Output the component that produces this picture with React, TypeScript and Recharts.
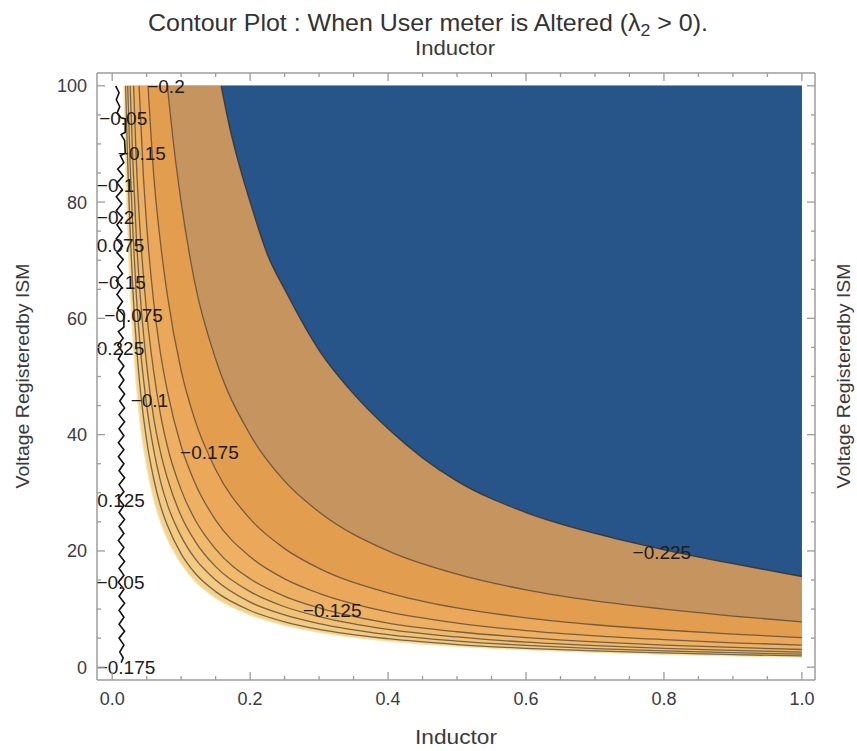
import React from 'react';
import { ComposedChart, Area, Line, XAxis, YAxis, Scatter } from 'recharts';

// ---------- axis setup ----------
const X_DOMAIN: [number, number] = [-0.022, 1.019];
const Y_DOMAIN: [number, number] = [-2.2, 102.2];
const xTicks = [0, 0.05, 0.1, 0.15, 0.2, 0.25, 0.3, 0.35, 0.4, 0.45, 0.5, 0.55, 0.6, 0.65, 0.7, 0.75, 0.8, 0.85, 0.9, 0.95, 1.0];
const xMajor = [0, 0.2, 0.4, 0.6, 0.8, 1.0];
const yTicks = [0, 5, 10, 15, 20, 25, 30, 35, 40, 45, 50, 55, 60, 65, 70, 75, 80, 85, 90, 95, 100];
const yMajor = [0, 20, 40, 60, 80, 100];

// ---------- contour curves (Inductor, Voltage) ----------
const edgeCurve = [[0.017, 100], [0.02, 85], [0.025, 68], [0.03, 56.7], [0.035, 48.6], [0.04, 42.5], [0.05, 34.5], [0.06, 29], [0.07, 25], [0.08, 22], [0.1, 17.8], [0.12, 14.8], [0.15, 11.9], [0.2, 9.0], [0.25, 7.2], [0.3, 6.0], [0.4, 4.5], [0.5, 3.6], [0.6, 3.0], [0.7, 2.55], [0.8, 2.2], [0.9, 1.95], [1.0, 1.75]];
const level050 = [[0.0195, 100], [0.022, 88.6], [0.026, 75], [0.03, 65], [0.035, 55.7], [0.04, 48.7], [0.05, 39], [0.06, 32.5], [0.07, 27.8], [0.08, 24.4], [0.1, 19.5], [0.12, 16.2], [0.15, 13], [0.2, 9.75], [0.25, 7.8], [0.3, 6.5], [0.4, 4.9], [0.5, 3.9], [0.6, 3.25], [0.7, 2.8], [0.8, 2.45], [0.9, 2.15], [1.0, 1.95]];
const level075 = [[0.0225, 100], [0.026, 86.5], [0.03, 75], [0.035, 64], [0.04, 56], [0.05, 45], [0.06, 37.5], [0.07, 32], [0.08, 28], [0.1, 22.5], [0.12, 18.7], [0.15, 15], [0.2, 11.2], [0.25, 9], [0.3, 7.5], [0.4, 5.6], [0.5, 4.5], [0.6, 3.75], [0.7, 3.2], [0.8, 2.8], [0.9, 2.5], [1.0, 2.25]];
const level100 = [[0.026, 100], [0.03, 87], [0.035, 74], [0.04, 65], [0.05, 52], [0.06, 43], [0.07, 37], [0.08, 32.5], [0.1, 26], [0.12, 21.7], [0.15, 17.3], [0.2, 13], [0.25, 10.4], [0.3, 8.7], [0.4, 6.5], [0.5, 5.2], [0.6, 4.3], [0.7, 3.7], [0.8, 3.25], [0.9, 2.9], [1.0, 2.6]];
const level125 = [[0.031, 100], [0.035, 87], [0.04, 76], [0.05, 61], [0.06, 51], [0.07, 43.5], [0.08, 38], [0.1, 30.5], [0.12, 25.4], [0.15, 20.3], [0.2, 15.2], [0.25, 12.2], [0.3, 10.2], [0.4, 7.6], [0.5, 6.1], [0.6, 5.1], [0.7, 4.35], [0.8, 3.8], [0.9, 3.4], [1.0, 3.05]];
const level150 = [[0.039, 100], [0.045, 85], [0.05, 76], [0.06, 63], [0.07, 54], [0.08, 47.5], [0.1, 38], [0.12, 31.7], [0.15, 25.3], [0.2, 19], [0.25, 15.2], [0.3, 12.7], [0.4, 9.5], [0.5, 7.6], [0.6, 6.3], [0.7, 5.4], [0.8, 4.75], [0.9, 4.2], [1.0, 3.8]];
const level175 = [[0.052, 100], [0.06, 85], [0.07, 73], [0.08, 64], [0.1, 51], [0.12, 42.5], [0.15, 34], [0.2, 25.5], [0.25, 20.4], [0.3, 17], [0.4, 12.8], [0.5, 10.2], [0.6, 8.5], [0.7, 7.3], [0.8, 6.4], [0.9, 5.7], [1.0, 5.1]];
const level200 = [[0.08, 100], [0.09, 89], [0.1, 80], [0.12, 66], [0.15, 53], [0.2, 40], [0.25, 32], [0.3, 26.7], [0.4, 20], [0.5, 16], [0.6, 13.3], [0.7, 11.4], [0.8, 10], [0.9, 8.8], [1.0, 7.8]];
const level225 = [[0.158, 100], [0.17, 93], [0.185, 86], [0.2, 80], [0.225, 71], [0.25, 65], [0.3, 54.5], [0.35, 47], [0.4, 41], [0.45, 36], [0.5, 32], [0.6, 26.6], [0.7, 23], [0.8, 20.2], [0.9, 17.8], [1.0, 15.6]];

// noisy contour along the left edge
const wiggle = [[0.005, 100], [0.010, 98.8], [0.006, 97.6], [0.011, 96.4], [0.007, 95.3], [0.013, 94.5], [0.019, 94.3], [0.019, 92.0], [0.013, 91.6], [0.018, 90.6], [0.019, 88.4], [0.012, 88.0], [0.017, 86.8], [0.008, 85.7], [0.016, 84.5], [0.007, 83.3], [0.015, 82.1], [0.006, 80.9], [0.014, 79.7], [0.006, 78.5], [0.015, 77.3], [0.007, 76.1], [0.014, 74.9], [0.006, 73.7], [0.015, 72.5], [0.007, 71.3], [0.016, 70.1], [0.008, 68.9], [0.015, 67.7], [0.006, 66.5], [0.014, 65.3], [0.007, 64.1], [0.015, 62.9], [0.008, 61.7], [0.017, 60.5], [0.017, 58.5], [0.009, 57.7], [0.016, 56.6], [0.008, 55.4], [0.015, 54.2], [0.009, 53.0], [0.017, 51.8], [0.010, 50.6], [0.017, 49.4], [0.010, 48.2], [0.018, 47.0], [0.011, 45.8], [0.018, 44.6], [0.010, 43.4], [0.018, 42.2], [0.010, 41.0], [0.017, 39.8], [0.009, 38.6], [0.017, 37.4], [0.009, 36.2], [0.017, 35.0], [0.010, 33.8], [0.018, 32.6], [0.010, 31.4], [0.017, 30.2], [0.009, 29.0], [0.017, 27.8], [0.010, 26.6], [0.018, 25.4], [0.010, 24.2], [0.017, 23.0], [0.009, 21.8], [0.017, 20.6], [0.010, 19.4], [0.018, 18.2], [0.010, 17.0], [0.017, 15.8], [0.009, 14.6], [0.017, 13.4], [0.010, 12.2], [0.018, 11.0], [0.010, 9.8], [0.017, 8.6], [0.010, 7.4], [0.018, 6.2], [0.010, 5.0], [0.017, 3.8], [0.011, 2.6], [0.016, 1.6], [0.013, 0.8]];

// contour labels: [text, inductor, voltage]
const contourLabels: [string, number, number][] = [
  ['\u22120.2', 0.078, 99.8],
  ['\u22120.05', 0.016, 94.3],
  ['\u22120.15', 0.043, 88.3],
  ['\u22120.1', 0.005, 82.8],
  ['\u22120.2', 0.005, 77.3],
  ['0.075', 0.012, 72.5],
  ['\u22120.15', 0.014, 66.2],
  ['\u22120.075', 0.031, 60.5],
  ['0.225', 0.012, 54.8],
  ['\u22120.1', 0.054, 45.9],
  ['\u22120.175', 0.141, 36.9],
  ['0.125', 0.013, 28.7],
  ['\u22120.05', 0.012, 14.6],
  ['\u22120.125', 0.319, 9.8],
  ['\u22120.175', 0.02, 0.0],
  ['\u22120.225', 0.797, 19.8],
];

// ---------- build the tables the library needs ----------
const toPts = (c: number[][]) => c.map(([x, y]) => ({ x, y }));
const toBand = (c: number[][]) => c.map(([x, y]) => ({ x, band: [y, 100] }));

const bands = [
  { curve: edgeCurve, fill: '#F4D28E' },
  { curve: level050, fill: '#F3CA82' },
  { curve: level075, fill: '#F1C277' },
  { curve: level100, fill: '#F0BA6C' },
  { curve: level125, fill: '#EEB163' },
  { curve: level150, fill: '#EBA75A' },
  { curve: level175, fill: '#E39D4F' },
  { curve: level200, fill: '#C5945F' },
  { curve: level225, fill: '#275489' },
];
const lines = [level050, level075, level100, level125, level150, level175, level200, level225];
const labelData = contourLabels.map(([text, x, y]) => ({ text, x, y }));

const FONT = '"Liberation Sans", Arial, sans-serif';
const AXIS_COLOR = '#9c9c9c';
const near = (arr: number[], v: number) => arr.some((m) => Math.abs(m - v) < 1e-6);

const BottomTick = (p: any) => {
  const { x, y, payload } = p;
  const major = near(xMajor, payload.value);
  return (
    <g>
      <line x1={x} x2={x} y1={y} y2={y - (major ? 8 : 4)} stroke={AXIS_COLOR} strokeWidth={1.3} />
      {major && (
        <text x={x} y={y + 25} textAnchor="middle" fontSize={18} fontFamily={FONT} fill="#3a3a44">
          {payload.value.toFixed(1)}
        </text>
      )}
    </g>
  );
};
const TopTick = (p: any) => {
  const { x, y, payload } = p;
  const major = near(xMajor, payload.value);
  return <line x1={x} x2={x} y1={y} y2={y + (major ? 8 : 4)} stroke={AXIS_COLOR} strokeWidth={1.3} />;
};
const LeftTick = (p: any) => {
  const { x, y, payload } = p;
  const major = near(yMajor, payload.value);
  return (
    <g>
      <line x1={x} x2={x + (major ? 8 : 4)} y1={y} y2={y} stroke={AXIS_COLOR} strokeWidth={1.3} />
      {major && (
        <text x={x - 10} y={y + 6.5} textAnchor="end" fontSize={18} fontFamily={FONT} fill="#3a3a44">
          {payload.value}
        </text>
      )}
    </g>
  );
};
const RightTick = (p: any) => {
  const { x, y, payload } = p;
  const major = near(yMajor, payload.value);
  return <line x1={x} x2={x - (major ? 8 : 4)} y1={y} y2={y} stroke={AXIS_COLOR} strokeWidth={1.3} />;
};

const LabelShape = (p: any) => {
  const { cx, cy, payload } = p;
  return (
    <text x={cx} y={cy + 6.5} textAnchor="middle" fontSize={19} fontFamily={FONT} fill="#1c1c1c">
      {payload.text}
    </text>
  );
};

export default function App() {
  return (
    <div style={{ position: 'absolute', left: 0, top: 0, width: 857, height: 751, background: '#fff' }}>
      <ComposedChart width={857} height={751} margin={{ top: 72, right: 41, bottom: 31, left: 37 }}>
        <XAxis
          xAxisId={0}
          dataKey="x"
          type="number"
          domain={X_DOMAIN}
          allowDataOverflow
          ticks={xTicks}
          interval={0}
          tick={BottomTick}
          tickLine={false}
          tickSize={0}
          tickMargin={0}
          height={40}
          axisLine={{ stroke: AXIS_COLOR, strokeWidth: 1.5 }}
        />
        <XAxis
          xAxisId="top"
          orientation="top"
          dataKey="x"
          type="number"
          domain={X_DOMAIN}
          allowDataOverflow
          ticks={xTicks}
          interval={0}
          tick={TopTick}
          tickLine={false}
          tickSize={0}
          tickMargin={0}
          height={1}
          axisLine={{ stroke: AXIS_COLOR, strokeWidth: 1.5 }}
        />
        <YAxis
          yAxisId={0}
          dataKey="y"
          type="number"
          domain={Y_DOMAIN}
          allowDataOverflow
          ticks={yTicks}
          interval={0}
          tick={LeftTick}
          tickLine={false}
          tickSize={0}
          tickMargin={0}
          width={60}
          axisLine={{ stroke: AXIS_COLOR, strokeWidth: 1.5 }}
        />
        <YAxis
          yAxisId="right"
          orientation="right"
          dataKey="y"
          type="number"
          domain={Y_DOMAIN}
          allowDataOverflow
          ticks={yTicks}
          interval={0}
          tick={RightTick}
          tickLine={false}
          tickSize={0}
          tickMargin={0}
          width={1}
          axisLine={{ stroke: AXIS_COLOR, strokeWidth: 1.5 }}
        />
        {bands.map((b, i) => (
          <Area
            key={'band' + i}
            data={toBand(b.curve)}
            dataKey="band"
            type="monotone"
            fill={b.fill}
            fillOpacity={1}
            stroke="none"
            isAnimationActive={false}
            dot={false}
            activeDot={false}
          />
        ))}
        <Line
          data={toPts(edgeCurve)}
          dataKey="y"
          type="monotone"
          stroke="#F7E3AE"
          strokeWidth={1.2}
          dot={false}
          activeDot={false}
          isAnimationActive={false}
        />
        {lines.map((l, i) => (
          <Line
            key={'line' + i}
            data={toPts(l)}
            dataKey="y"
            type="monotone"
            stroke={i === lines.length - 1 ? '#2e2e2e' : '#5a4a38'}
            strokeOpacity={0.8}
            strokeWidth={1.3}
            dot={false}
            activeDot={false}
            isAnimationActive={false}
          />
        ))}
        <Line
          data={toPts(wiggle)}
          dataKey="y"
          type="linear"
          stroke="#111"
          strokeWidth={1.6}
          dot={false}
          activeDot={false}
          isAnimationActive={false}
        />
        <Scatter data={labelData} dataKey="y" shape={LabelShape} isAnimationActive={false} />
      </ComposedChart>
      <svg
        width={857}
        height={751}
        style={{ position: 'absolute', left: 0, top: 0, pointerEvents: 'none' }}
      >
        <text x={428} y={31} textAnchor="middle" fontSize={24} fontFamily={FONT} fill="#333" textLength={560} lengthAdjust="spacingAndGlyphs">
          Contour Plot : When User meter is Altered (λ<tspan fontSize={17} dy={5}>2</tspan><tspan dy={-5}> &gt; 0).</tspan>
        </text>
        <text x={455} y={55} textAnchor="middle" fontSize={20} fontFamily={FONT} fill="#3a3a3a" textLength={80} lengthAdjust="spacingAndGlyphs">
          Inductor
        </text>
        <text x={456} y={744} textAnchor="middle" fontSize={20} fontFamily={FONT} fill="#3a3a3a" textLength={82} lengthAdjust="spacingAndGlyphs">
          Inductor
        </text>
        <text transform="translate(29,376) rotate(-90)" textAnchor="middle" fontSize={19} fontFamily={FONT} fill="#3a3a3a" textLength={225} lengthAdjust="spacingAndGlyphs">
          Voltage Registeredby ISM
        </text>
        <text transform="translate(850,376) rotate(-90)" textAnchor="middle" fontSize={19} fontFamily={FONT} fill="#3a3a3a" textLength={225} lengthAdjust="spacingAndGlyphs">
          Voltage Registeredby ISM
        </text>
      </svg>
    </div>
  );
}
